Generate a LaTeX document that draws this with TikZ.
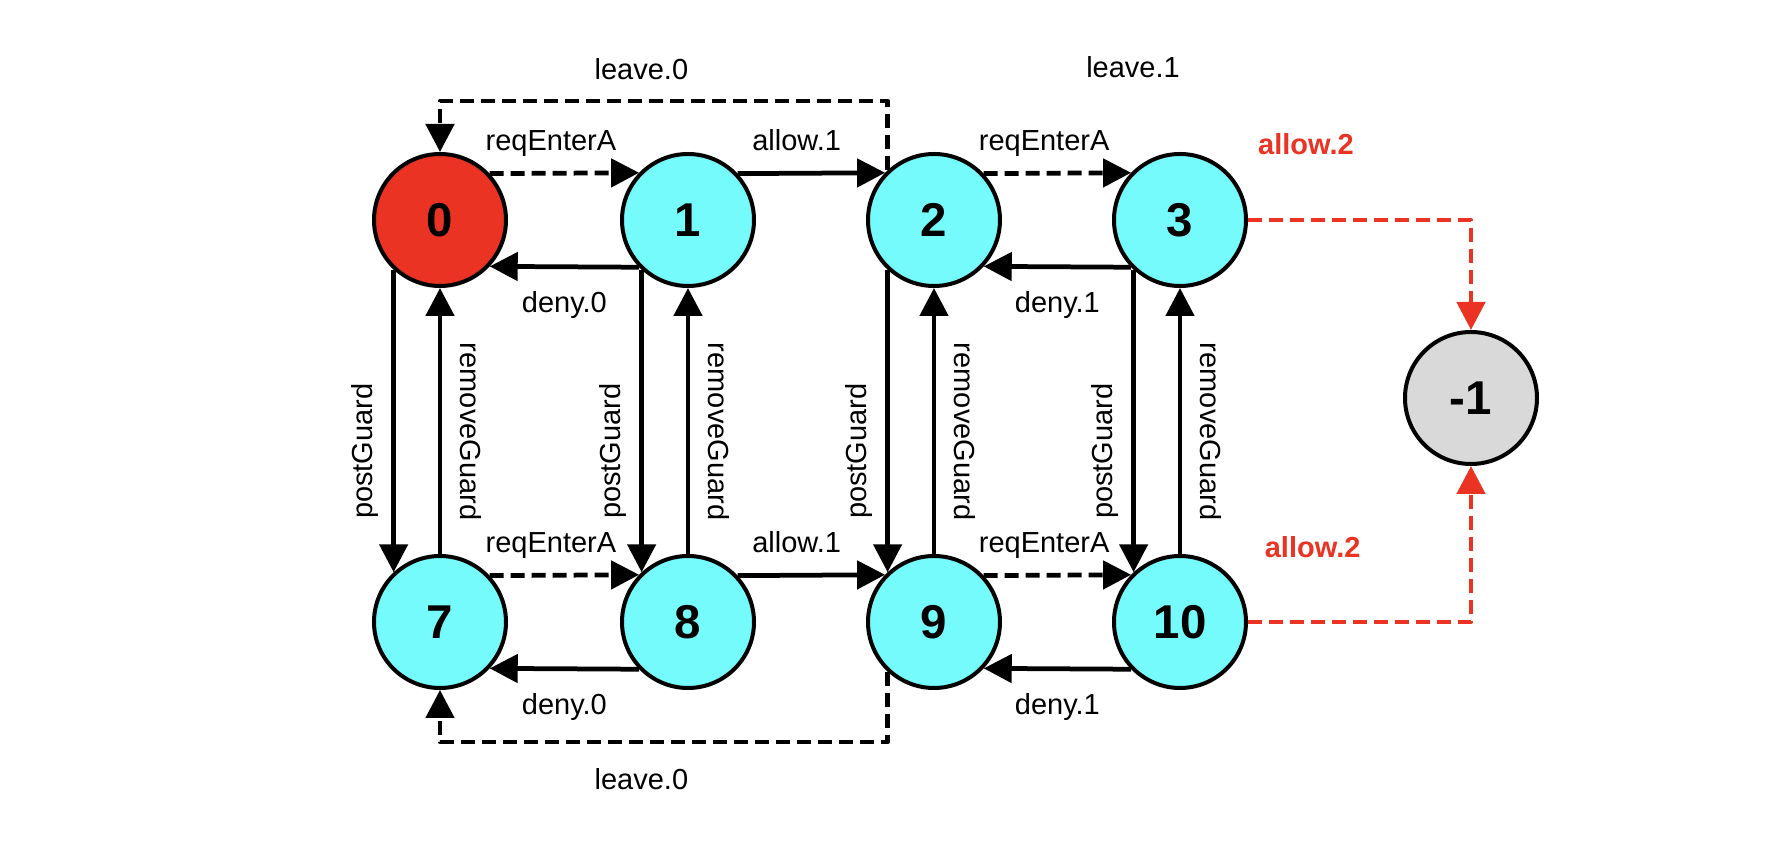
\documentclass[tikz,border=0pt]{standalone}
\usepackage{fontspec}
\setmainfont{Liberation Sans}
\usetikzlibrary{arrows.meta}
\definecolor{stred}{RGB}{234,51,35}
\definecolor{stcyan}{RGB}{118,251,253}
\definecolor{stgray}{RGB}{217,217,217}

\begin{document}
\begin{tikzpicture}[
    state/.style={circle, draw, line width=0.08cm, minimum size=2.64cm, inner sep=0pt,
      fill=stcyan, font=\fontsize{27}{29}\selectfont\bfseries},
    trans/.style={line width=0.095cm, line join=round, -{Triangle[length=0.56cm, width=0.56cm]}},
    req/.style={trans, dash pattern=on 0.28cm off 0.14cm},
    err/.style={req, draw=stred},
    lbl/.style={font=\fontsize{16.5}{18}\selectfont, inner sep=0pt},
    errlbl/.style={lbl, text=stred, font=\fontsize{16.5}{18}\selectfont\bfseries}
  ]
  \useasboundingbox (-8.8,4.4) rectangle (26.84,-12.44);

  % States, top row
  \node[state, fill=stred] (s0) at (0,0) {0};
  \foreach \n/\x in {1/4.96, 2/9.88, 3/14.8}
    \node[state] (s\n) at (\x,0) {\n};

  % States, bottom row
  \foreach \n/\x in {7/0, 8/4.96, 9/9.88, 10/14.8}
    \node[state] (s\n) at (\x,-8.04) {\n};

  % Error state
  \node[state, fill=stgray] (sm1) at (20.62,-3.56) {-1};

  % Requests (dashed)
  \foreach \a/\b in {0/1, 2/3, 7/8, 9/10}
    \draw[req] (s\a.43.7) -- node[lbl, above=0.29cm, pos=0.41] {reqEnterA} (s\b.136.3);

  % Allow
  \foreach \a/\b in {1/2, 8/9}
    \draw[trans] (s\a.43.7) -- node[lbl, above=0.4cm, pos=0.4] {allow.1} (s\b.136.3);

  % Deny
  \foreach \a/\b/\t in {1/0/deny.0, 8/7/deny.0, 3/2/deny.1, 10/9/deny.1}
    \draw[trans] (s\a.-136.3) -- node[lbl, below=0.44cm, pos=0.5] {\t} (s\b.-43.7);

  % Guards up and down
  \foreach \a/\b in {0/7, 1/8, 2/9, 3/10} {
    \draw[trans] (s\a.-133.7) -- node[lbl, rotate=90, above=0.26cm, pos=0.6] {postGuard} (s\b.133.7);
    \draw[trans] (s\b.north) -- node[lbl, rotate=-90, above=0.36cm, pos=0.46] {removeGuard} (s\a.south);
  }

  % Leaving (dashed)
  \coordinate (ltop) at (0,2.38);
  \coordinate (lbot) at (0,-10.44);
  \draw[req] (s2.133.7) -- (s2.133.7 |- ltop) -- node[lbl, above=0.38cm, pos=0.55] {leave.0} (ltop) -- (s0.north);
  \draw[req] (s9.-133.7) -- (s9.-133.7 |- lbot) -- node[lbl, below=0.48cm, pos=0.55] {leave.0} (lbot) -- (s7.south);
  \node[lbl] (leave1) at (13.86,3.06) {leave.1};

  % Error transitions
  \coordinate (etop) at (sm1 |- s3);
  \coordinate (ebot) at (sm1 |- s10);
  \draw[err] (s3.east) -- node[errlbl, above=1.26cm, pos=0.26] {allow.2} (etop) -- (sm1.north);
  \draw[err] (s10.east) -- node[errlbl, above=1.24cm, pos=0.29] {allow.2} (ebot) -- (sm1.south);
\end{tikzpicture}
\end{document}
